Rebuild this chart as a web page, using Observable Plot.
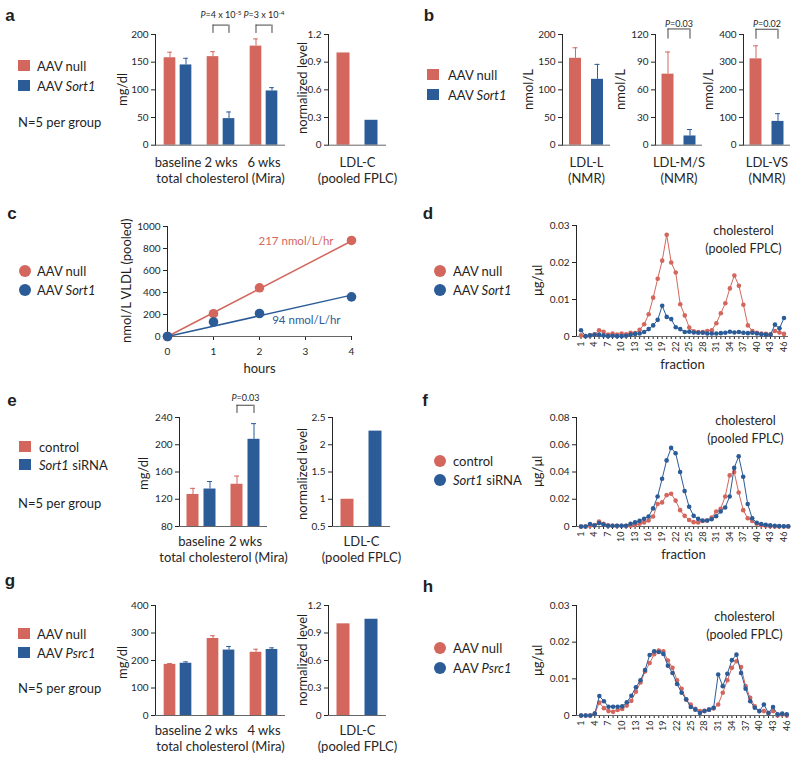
<!DOCTYPE html>
<html><head><meta charset="utf-8">
<script src="https://cdn.jsdelivr.net/npm/d3@7"></script>
<script src="https://cdn.jsdelivr.net/npm/@observablehq/plot@0.6"></script>
<style>
body{margin:0;background:#fff;}
#fig{position:relative;width:800px;height:759px;overflow:hidden;font-family:Lato,sans-serif;color:#1f1f1f;}
.t{position:absolute;white-space:nowrap;transform:translateY(-50%);line-height:1;}
.rot{position:absolute;white-space:nowrap;transform-origin:0 0;transform:rotate(-90deg);line-height:1;}
.letter{font-family:"Liberation Sans",Arial,sans-serif;font-weight:bold;font-size:17px;transform:translate(-50%,-50%);}
.sw{position:absolute;}
svg{position:absolute;}
</style></head><body><div id="fig"></div>
<script>
const RED = "#d3675e", BLUE = "#2b5c97";
const FONT = "Lato, sans-serif";
const BIG = 13;

// ---------- panel a ----------
const aGroups = ["baseline", "2 wks", "6 wks"];
const aNull = [158, 160, 179];
const aNullErr = [10, 9, 13];
const aSort1 = [145, 48, 98];
const aSort1Err = [12, 12, 6];
const aLdlc = [1.0, 0.27];
const aP = [
  {g: "2 wks", label: "P=4 x 10^-5", lo: 202, hi: 217},
  {g: "6 wks", label: "P=3 x 10^-4", lo: 202, hi: 217}
];
// ---------- panel b ----------
const bCats = ["LDL-L", "LDL-M/S", "LDL-VS"];
const bNull = [157, 77, 312];
const bNullErr = [19, 24, 47];
const bSort1 = [119, 10, 86];
const bSort1Err = [27, 7, 28];
const bP = [null, {g: "LDL-M/S", label: "P=0.03", lo: 115, hi: 126}, {g: "LDL-VS", label: "P=0.02", lo: 383, hi: 419}];
// ---------- panel c ----------
const cHours = [0, 1, 2, 4];
const cNull = [0, 207, 443, 873];
const cSort1 = [0, 132, 209, 360];
const cRates = [217, 94];
const cRateLabels = ["217 nmol/L/hr", "94 nmol/L/hr"];
// ---------- panel d ----------
const dNull = [0.0003,0.0001,0.0003,0.0005,0.0017,0.0013,0.0005,0.0008,0.0005,0.0008,
  0.0006,0.001,0.0009,0.0018,0.0033,0.006,0.0105,0.0156,0.0205,0.0275,
  0.02,0.0173,0.0087,0.0057,0.0024,0.0014,0.0012,0.0012,0.0015,0.0017,
  0.0036,0.0063,0.009,0.013,0.0165,0.0137,0.0086,0.003,0.0015,0.001,
  0.0008,0.0007,0.0005,0.0015,0.0011,0.0007];
const dSort1 = [0.0017,0.0001,0.0003,0.0005,0.0005,0.0003,0.0001,0.0002,0.0001,0.0001,
  0.0002,0.0005,0.0007,0.0008,0.0012,0.002,0.003,0.0045,0.0083,0.0053,
  0.0047,0.0025,0.002,0.0012,0.0013,0.0011,0.001,0.001,0.0008,0.0008,
  0.0008,0.0009,0.001,0.0013,0.0011,0.0012,0.001,0.0009,0.001,0.0008,
  0.0006,0.0005,0.0005,0.0032,0.0022,0.005];
// ---------- panel e ----------
const eGroups = ["baseline", "2 wks"];
const eControl = [127, 142];
const eControlErr = [9, 12];
const eSiRNA = [135, 208];
const eSiRNAErr = [11, 23];
const eLdlc = [1.0, 2.25];
const eP = [{g: "2 wks", label: "P=0.03", lo: 246, hi: 258}];
// ---------- panel f ----------
const fControl = [0,0,0.0005,0.001,0.0036,0.002,0.0008,0.0005,0.0005,0.0005,
  0.0005,0.0005,0.0012,0.002,0.003,0.0044,0.0073,0.0165,0.0177,0.023,
  0.024,0.019,0.012,0.0078,0.0048,0.0032,0.003,0.004,0.0044,0.0065,
  0.011,0.013,0.022,0.0375,0.04,0.025,0.012,0.006,0.004,0.002,
  0.001,0.0005,0.0002,0,0,0,0];
const fSiRNA = [0,0,0.0018,0.0007,0.0025,0.0015,0.0005,0.0005,0.0005,0.0005,
  0.0005,0.002,0.003,0.0041,0.0056,0.0073,0.0133,0.022,0.035,0.0485,
  0.0577,0.0538,0.04,0.026,0.0145,0.0078,0.0056,0.0044,0.0044,0.0053,
  0.0075,0.011,0.014,0.022,0.043,0.0515,0.0365,0.0165,0.006,0.0028,
  0.0018,0.0012,0.0008,0.0005,0.0003,0.0002,0.0001];
// ---------- panel g ----------
const gGroups = ["baseline", "2 wks", "4 wks"];
const gNull = [186, 280, 230];
const gNullErr = [3, 10, 11];
const gPsrc1 = [190, 238, 240];
const gPsrc1Err = [5, 13, 6];
const gLdlc = [1.0, 1.05];
// ---------- panel h ----------
const hNull = [0,0,0,0.0005,0.0035,0.002,0.0012,0.001,0.0015,0.0018,
  0.0027,0.004,0.0065,0.009,0.012,0.0143,0.0167,0.0177,0.0175,0.015,
  0.013,0.0096,0.0073,0.0043,0.003,0.0018,0.0012,0.0013,0.0016,0.0019,
  0.003,0.0062,0.0096,0.013,0.0148,0.0132,0.008,0.0048,0.0025,0.0012,
  0.0012,0.0007,0.0012,0,0.0003,0];
const hPsrc1 = [0,0,0,0.0005,0.0053,0.0039,0.0024,0.0024,0.0024,0.0025,
  0.0036,0.0054,0.0077,0.0096,0.0124,0.0165,0.0175,0.0173,0.0168,0.0136,
  0.0116,0.0086,0.0062,0.0044,0.0023,0.0016,0.0007,0.0012,0.0016,0.0021,
  0.0112,0.008,0.0114,0.0151,0.0166,0.0116,0.0073,0.0039,0.0021,0.0012,
  0.003,0.0007,0.0023,0.0003,0.0005,0.0003];

const fig = document.getElementById("fig");
const baseStyle = {background: "none", overflow: "visible", fontFamily: FONT, fontSize: "10px", color: "#262626"};
const fmt = d => String(d);

function put(node, left, top) {
  node.style.left = left + "px"; node.style.top = top + "px";
  fig.appendChild(node);
}
function txt(html, x, y, size, cls) {
  const d = document.createElement("div");
  d.className = "t" + (cls ? " " + cls : "");
  d.style.left = x + "px"; d.style.top = y + "px";
  if (size) d.style.fontSize = size + "px";
  d.innerHTML = html; fig.appendChild(d); return d;
}
// rotated (bottom-to-top) label centred on (cx, cy)
function rotTxt(html, cx, cy) {
  const d = document.createElement("div");
  d.className = "rot";
  d.style.fontSize = BIG + "px";
  d.innerHTML = html; fig.appendChild(d);
  const w = d.offsetWidth, h = d.offsetHeight;
  d.style.left = (cx - h / 2) + "px";
  d.style.top = (cy + w / 2) + "px";
  return d;
}
function swatch(color, x, y, w, h, round) {
  const d = document.createElement("div");
  d.className = "sw";
  Object.assign(d.style, {left: x + "px", top: y + "px", width: w + "px", height: h + "px", background: color, borderRadius: round ? "50%" : "0"});
  fig.appendChild(d);
}
function richP(svg) {
  d3.select(svg).selectAll("text").each(function() {
    const t = this.textContent;
    if (!/^P=/.test(t)) return;
    const [base, sup] = t.slice(2).split("^");
    const sel = d3.select(this); sel.text(null);
    sel.append("tspan").attr("font-style", "italic").text("P");
    sel.append("tspan").text("=" + base);
    if (sup) sel.append("tspan").attr("dy", "-0.45em").attr("font-size", "0.72em").text(sup);
  });
}
function bottomText(data, opts) {
  return Plot.text(data, Object.assign({frameAnchor: "bottom", lineAnchor: "middle", textAnchor: "middle", fontSize: BIG}, opts));
}

function bars(o) {
  const mL = 62, mR = 14, mT = 36, mB = 46;
  const n = o.groups.length, step = o.plotW / n;
  const side = (step - 2 * o.barW - o.gap) / 2;
  const off = (o.barW + o.gap) / 2;
  const cap = 2.5;
  const y0 = o.yDomain[0];
  const rows = o.groups.map((g, i) => ({g, a: o.a[i], ea: o.ea ? o.ea[i] : null, b: o.b[i], eb: o.eb ? o.eb[i] : null}));
  const errA = rows.filter(d => d.ea != null), errB = rows.filter(d => d.eb != null);
  const pv = (o.p || []).filter(Boolean);
  const c0 = o.colors[0], c1 = o.colors[1];
  const marks = [
    Plot.barY(rows, {x: "g", y1: () => y0, y2: "a", fill: c0, insetLeft: side, insetRight: side + o.barW + o.gap}),
    Plot.barY(rows, {x: "g", y1: () => y0, y2: "b", fill: c1, insetLeft: side + o.barW + o.gap, insetRight: side}),
    Plot.ruleX(errA, {x: "g", y1: "a", y2: d => d.a + d.ea, stroke: c0, dx: -off}),
    Plot.tickY(errA, {x: "g", y: d => d.a + d.ea, stroke: c0, insetLeft: side + o.barW / 2 - cap, insetRight: step - side - o.barW / 2 - cap}),
    Plot.ruleX(errB, {x: "g", y1: "b", y2: d => d.b + d.eb, stroke: c1, dx: off}),
    Plot.tickY(errB, {x: "g", y: d => d.b + d.eb, stroke: c1, insetLeft: step - side - o.barW / 2 - cap, insetRight: side + o.barW / 2 - cap}),
    Plot.ruleY([y0], {stroke: "#666"}),
    Plot.ruleX(pv, {x: "g", y1: "lo", y2: "hi", stroke: "#444", dx: -off}),
    Plot.ruleX(pv, {x: "g", y1: "lo", y2: "hi", stroke: "#444", dx: off}),
    Plot.tickY(pv, {x: "g", y: "hi", stroke: "#444", insetLeft: side + o.barW / 2, insetRight: side + o.barW / 2}),
    Plot.text(pv, {x: "g", y: "hi", text: "label", dy: o.pDy, fontSize: 9}),
    bottomText(rows, {x: "g", text: "g", dy: o.catDy}),
    bottomText([o.xTitle], {text: d => d, dy: o.titleDy})
  ];
  const svg = Plot.plot({
    width: mL + o.plotW + mR, height: mT + o.plotH + mB,
    marginLeft: mL, marginRight: mR, marginTop: mT, marginBottom: mB,
    style: baseStyle,
    x: {type: "band", domain: o.groups, padding: 0, axis: null},
    y: {domain: o.yDomain, ticks: o.yTicks, tickFormat: fmt, tickSize: 4, tickPadding: 3, line: true, label: null},
    marks
  });
  richP(svg);
  put(svg, o.left - mL, o.top - mT);
  rotTxt(o.yLabel, o.yLabelX, o.top + o.plotH / 2 + (o.yLabelShift || 0));
}

function frac(o) {
  const mL = 62, mR = 14, mT = 20, mB = 42;
  const toRows = arr => arr.map((v, i) => ({f: i + 1, v}));
  const A = toRows(o.a), B = toRows(o.b);
  const marks = [
    Plot.ruleY([0], {stroke: "#666"}),
    Plot.line(A, {x: "f", y: "v", stroke: o.colors[0], strokeWidth: 1}),
    Plot.dot(A, {x: "f", y: "v", r: 2.3, fill: o.colors[0]}),
    Plot.line(B, {x: "f", y: "v", stroke: o.colors[1], strokeWidth: 1}),
    Plot.dot(B, {x: "f", y: "v", r: 2.3, fill: o.colors[1]}),
    Plot.text([o.note], {text: d => d, frameAnchor: "top-right", dx: -45, dy: o.noteDy, textAnchor: "middle", lineAnchor: "top", lineHeight: 1.42, fontSize: 12.5})
  ];
  if (o.xTitle) marks.push(bottomText([o.xTitle], {text: d => d, dy: 28}));
  const svg = Plot.plot({
    width: mL + o.plotW + mR, height: mT + o.plotH + mB,
    marginLeft: mL, marginRight: mR, marginTop: mT, marginBottom: mB,
    style: Object.assign({}, baseStyle, {fontSize: "9px"}),
    x: {domain: o.xDomain, ticks: d3.range(1, 47), tickFormat: d => (d - 1) % 3 ? "" : String(d), tickRotate: -90, tickSize: 3, tickPadding: 2, label: null},
    y: {domain: o.yDomain, ticks: o.yTicks, tickFormat: fmt, tickSize: 4, tickPadding: 3, line: true, label: null},
    marks
  });
  d3.select(svg).selectAll('g[aria-label^="y-axis"] text').attr("font-size", "10px");
  put(svg, o.left - mL, o.top - mT);
  rotTxt(o.yLabel, 537, o.top + o.plotH / 2);
}

// ---------- panel c chart ----------
(function() {
  const mL = 62, mR = 14, mT = 20, mB = 46, plotW = 184, plotH = 110;
  const span = d3.extent(cHours);
  const nullPts = cHours.map((h, i) => ({h, v: cNull[i]}));
  const sortPts = cHours.map((h, i) => ({h, v: cSort1[i]}));
  const fits = cRates.map(r => span.map(h => ({h, v: r * h})));
  const ends = cRates.map((r, k) => ({h: span[1], v: r * span[1], label: cRateLabels[k]}));
  const svg = Plot.plot({
    width: mL + plotW + mR, height: mT + plotH + mB,
    marginLeft: mL, marginRight: mR, marginTop: mT, marginBottom: mB,
    style: baseStyle,
    x: {domain: [0, 4], ticks: [0, 1, 2, 3, 4], tickFormat: fmt, tickSize: 4, tickPadding: 7, label: null},
    y: {domain: [0, 1000], ticks: d3.range(0, 1001, 200), tickFormat: fmt, tickSize: 4, tickPadding: 3, line: true, label: null},
    marks: [
      Plot.ruleY([0], {stroke: "#666"}),
      Plot.line(fits[0], {x: "h", y: "v", stroke: RED, strokeWidth: 1.5}),
      Plot.line(fits[1], {x: "h", y: "v", stroke: BLUE, strokeWidth: 1.5}),
      Plot.dot(nullPts, {x: "h", y: "v", r: 4.8, fill: RED}),
      Plot.dot(sortPts, {x: "h", y: "v", r: 4.8, fill: BLUE}),
      Plot.text([ends[0]], {x: "h", y: "v", text: "label", textAnchor: "end", dx: -18, fill: RED, fontSize: 11.5}),
      Plot.text([ends[1]], {x: "h", y: "v", text: "label", textAnchor: "end", dx: -11, dy: 25, fill: BLUE, fontSize: 11.5}),
      bottomText(["hours"], {text: d => d, dy: 32})
    ]
  });
  put(svg, 167 - mL, 226 - mT);
  rotTxt("nmol/L VLDL (pooled)", 126, 281);
})();

// ---------- bar charts ----------
const two = [RED, BLUE];
bars({left: 155, top: 34.3, plotW: 130, plotH: 110.7, groups: aGroups, a: aNull, ea: aNullErr, b: aSort1, eb: aSort1Err,
  yDomain: [0, 200], yTicks: [0, 50, 100, 150, 200], yLabel: "mg/dl", yLabelX: 122, xTitle: "total cholesterol (Mira)",
  barW: 12, gap: 4, p: aP, pDy: -10, catDy: 18, titleDy: 34, colors: two});
bars({left: 328, top: 34.3, plotW: 58, plotH: 110.7, groups: ["LDL-C"], a: [aLdlc[0]], b: [aLdlc[1]],
  yDomain: [0, 1.2], yTicks: [0, 0.3, 0.6, 0.9, 1.2], yLabel: "normalized level", yLabelX: 302, yLabelShift: -2, xTitle: "(pooled FPLC)",
  barW: 13, gap: 15, catDy: 18, titleDy: 34, colors: two});
const bDomains = [[0, 200], [0, 120], [0, 400]];
const bTicks = [[0, 50, 100, 150, 200], [0, 30, 60, 90, 120], [0, 100, 200, 300, 400]];
const bLeft = [562, 655, 743];
const bLabelX = [528, 620, 708];
bCats.forEach((c, i) => bars({left: bLeft[i], top: 34.3, plotW: i === 0 ? 48 : 47, plotH: 110.7, groups: [c],
  a: [bNull[i]], ea: [bNullErr[i]], b: [bSort1[i]], eb: [bSort1Err[i]],
  yDomain: bDomains[i], yTicks: bTicks[i], yLabel: "nmol/L", yLabelX: bLabelX[i], xTitle: "(NMR)",
  barW: 12, gap: 10, p: [bP[i]], pDy: -5, catDy: 18, titleDy: 34, colors: two}));
bars({left: 179, top: 417, plotW: 88, plotH: 109, groups: eGroups, a: eControl, ea: eControlErr, b: eSiRNA, eb: eSiRNAErr,
  yDomain: [80, 240], yTicks: [80, 120, 160, 200, 240], yLabel: "mg/dl", yLabelX: 143, yLabelShift: 2, xTitle: "total cholesterol (Mira)",
  barW: 12, gap: 5, p: eP, pDy: -7, catDy: 15, titleDy: 31, colors: two});
bars({left: 332, top: 417, plotW: 58, plotH: 109, groups: ["LDL-C"], a: [eLdlc[0]], b: [eLdlc[1]],
  yDomain: [0.5, 2.5], yTicks: [0.5, 1, 1.5, 2, 2.5], yLabel: "normalized level", yLabelX: 302, yLabelShift: 2, xTitle: "(pooled FPLC)",
  barW: 13, gap: 15, catDy: 15, titleDy: 31, colors: two});
bars({left: 155, top: 605, plotW: 130, plotH: 110, groups: gGroups, a: gNull, ea: gNullErr, b: gPsrc1, eb: gPsrc1Err,
  yDomain: [0, 400], yTicks: [0, 100, 200, 300, 400], yLabel: "mg/dl", yLabelX: 122, yLabelShift: 2, xTitle: "total cholesterol (Mira)",
  barW: 12, gap: 4, catDy: 15, titleDy: 31, colors: two});
bars({left: 328, top: 605, plotW: 58, plotH: 110, groups: ["LDL-C"], a: [gLdlc[0]], b: [gLdlc[1]],
  yDomain: [0, 1.2], yTicks: [0, 0.3, 0.6, 0.9, 1.2], yLabel: "normalized level", yLabelX: 302, xTitle: "(pooled FPLC)",
  barW: 13, gap: 15, catDy: 15, titleDy: 31, colors: two});

// ---------- fraction charts ----------
const note = "cholesterol\n(pooled FPLC)";
frac({left: 576, top: 225, plotW: 212, plotH: 111, a: dNull, b: dSort1, xDomain: [0, 47], yDomain: [0, 0.03],
  yTicks: [0, 0.01, 0.02, 0.03], yLabel: "μg/μl", xTitle: "fraction", note, noteDy: -3, colors: two});
frac({left: 576, top: 416.7, plotW: 214, plotH: 109, a: fControl, b: fSiRNA, xDomain: [0, 47.5], yDomain: [0, 0.08],
  yTicks: [0, 0.02, 0.04, 0.06, 0.08], yLabel: "μg/μl", xTitle: "fraction", note, noteDy: -5, colors: two});
frac({left: 576, top: 605, plotW: 213, plotH: 110, a: hNull, b: hPsrc1, xDomain: [0, 46.6], yDomain: [0, 0.03],
  yTicks: [0, 0.01, 0.02, 0.03], yLabel: "μg/μl", note, noteDy: 3, colors: two});

// ---------- legends & panel letters ----------
[["a", 10, 15], ["b", 429, 15], ["c", 12, 213], ["d", 428, 213], ["e", 12, 400], ["f", 425, 400], ["g", 10, 580], ["h", 428, 586]]
  .forEach(([ch, x, y]) => txt(ch, x, y, 17, "letter"));

function squareLegend(items, x, tx, ys, size) {
  items.forEach((it, k) => {
    swatch(it.color, x, ys[k] - size / 2, size, size - 1, false);
    txt(it.html, tx, ys[k], BIG);
  });
}
function dotLegend(items, cx, tx, ys) {
  items.forEach((it, k) => {
    swatch(it.color, cx - 6, ys[k] - 6, 12, 12, true);
    txt(it.html, tx, ys[k], BIG);
  });
}
const lgNullSort = [{color: RED, html: "AAV null"}, {color: BLUE, html: "AAV <i>Sort1</i>"}];
const lgSiRNA = [{color: RED, html: "control"}, {color: BLUE, html: "<i>Sort1</i> siRNA"}];
const lgPsrc = [{color: RED, html: "AAV null"}, {color: BLUE, html: "AAV <i>Psrc1</i>"}];
squareLegend(lgNullSort, 18, 37, [65.5, 86], 12);
txt("N=5 per group", 18, 122, BIG);
squareLegend(lgNullSort, 427, 448, [74.5, 94.5], 12);
dotLegend(lgNullSort, 25, 37, [271, 290]);
dotLegend(lgNullSort, 440, 453, [271, 290]);
squareLegend(lgSiRNA, 19, 39, [447, 465], 12);
txt("N=5 per group", 18, 503, BIG);
dotLegend(lgSiRNA, 440, 453, [461, 480]);
squareLegend(lgPsrc, 18, 37, [633.5, 653], 12);
txt("N=5 per group", 18, 688, BIG);
dotLegend(lgPsrc, 440, 453, [648, 668]);
</script></body></html>
